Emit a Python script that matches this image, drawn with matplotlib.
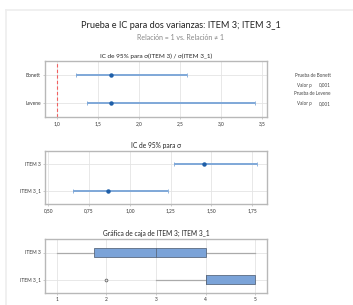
import matplotlib.pyplot as plt
from matplotlib.patches import Rectangle

plt.rcParams['font.family'] = ['Lato', 'DejaVu Sans']

# IC de la razon de desviaciones
metodos = ["Bonett", "Levene"]
razon_est = [1.66, 1.66]
razon_inf = [1.23, 1.365]
razon_sup = [2.58, 3.41]

# IC de sigma
muestras = ["ITEM 3", "ITEM 3_1"]
sigma_est = [1.451, 0.868]
sigma_inf = [1.273, 0.653]
sigma_sup = [1.776, 1.236]

# datos de la grafica de caja (min, q1, mediana, q3, max)
caja_item3 = [1, 1.75, 3, 4, 5]
caja_item31 = [3, 4, 4, 5, 5]
atipicos_item31 = [2]

pruebas = ["Prueba de Bonett", "Prueba de Levene"]
valores_p = ["0,001", "0,001"]

W, H = 353, 305
fig = plt.figure(figsize=(W / 100, H / 100), dpi=100)

def box(x0, y0, x1, y1):
    return [x0 / W, 1 - y1 / H, (x1 - x0) / W, (y1 - y0) / H]

grid_c = "#e4e4e4"
spine_c = "#b8b8b8"
ci_c = "#7fa8d8"
pt_c = "#1f5fa8"

def style(ax):
    for s in ax.spines.values():
        s.set_color(spine_c)
        s.set_linewidth(1.0)
    ax.tick_params(labelsize=3.5, length=1.5, width=0.5, color=spine_c, pad=1.5, labelcolor="#333333")
    ax.grid(True, color=grid_c, linewidth=0.6)
    ax.set_axisbelow(True)

# borde de la tarjeta
fig.add_artist(plt.Line2D([6 / W, 6 / W], [0, 1 - 10 / H], color="#eeeeee", lw=1.2))
fig.add_artist(plt.Line2D([6 / W, 1], [1 - 10 / H, 1 - 10 / H], color="#eeeeee", lw=1.2))

fig.text(181 / W, 1 - 25 / H, "Prueba e IC para dos varianzas: ITEM 3; ITEM 3_1",
         ha="center", va="center", fontsize=6.6, color="#222222")
fig.text(181 / W, 1 - 37 / H, "Relación = 1 vs. Relación \u2260 1",
         ha="center", va="center", fontsize=5.0, color="#888888")

# panel 1
ax1 = fig.add_axes(box(45, 61, 267, 117))
style(ax1)
ypos = [1, 0]
for y, e, lo, hi in zip(ypos, razon_est, razon_inf, razon_sup):
    ax1.errorbar([e], [y], xerr=[[e - lo], [hi - e]], fmt="o", color=pt_c, ms=2.2,
                 ecolor=ci_c, elinewidth=1.4, capsize=1.2, capthick=0.6)
ax1.axvline(1.0, color="#f26060", ls=(0, (3, 2)), lw=0.8)
ax1.set_xlim(0.854, 3.56)
ax1.set_ylim(-0.5, 1.5)
ax1.set_yticks(ypos)
ax1.set_yticklabels(metodos)
ax1.set_xticks([1.0, 1.5, 2.0, 2.5, 3.0, 3.5])
ax1.set_xticklabels(["1,0", "1,5", "2,0", "2,5", "3,0", "3,5"])
ax1.set_title("IC de 95% para \u03c3(ITEM 3) / \u03c3(ITEM 3_1)", fontsize=4.6, pad=2, color="#222222")

# panel 2
ax2 = fig.add_axes(box(45, 151, 267, 204))
style(ax2)
for y, e, lo, hi in zip(ypos, sigma_est, sigma_inf, sigma_sup):
    ax2.errorbar([e], [y], xerr=[[e - lo], [hi - e]], fmt="o", color=pt_c, ms=2.2,
                 ecolor=ci_c, elinewidth=1.4, capsize=1.2, capthick=0.6)
ax2.set_xlim(0.48, 1.84)
ax2.set_ylim(-0.5, 1.5)
ax2.set_yticks(ypos)
ax2.set_yticklabels(muestras)
ax2.set_xticks([0.5, 0.75, 1.0, 1.25, 1.5, 1.75])
ax2.set_xticklabels(["0,50", "0,75", "1,00", "1,25", "1,50", "1,75"])
ax2.set_title("IC de 95% para \u03c3", fontsize=4.8, pad=2, color="#222222")

# panel 3
ax3 = fig.add_axes(box(45, 239, 267, 293))
style(ax3)
bh = 0.36
for y, c in zip(ypos, [caja_item3, caja_item31]):
    mn, q1, med, q3, mx = c
    ax3.plot([mn, q1], [y, y], color="#aaaaaa", lw=0.9, zorder=2)
    ax3.plot([q3, mx], [y, y], color="#aaaaaa", lw=0.9, zorder=2)
    ax3.add_patch(Rectangle((q1, y - bh / 2), q3 - q1, bh, facecolor="#7ba3d8",
                            edgecolor="#5a6a80", lw=0.6, zorder=3))
    ax3.plot([med, med], [y - bh / 2, y + bh / 2], color="#5a6a80", lw=0.6, zorder=4)
ax3.plot(atipicos_item31, [0] * len(atipicos_item31), "o", mfc="none", mec="#666666",
         ms=2, mew=0.6, zorder=4)
ax3.set_xlim(0.76, 5.24)
ax3.set_ylim(-0.5, 1.5)
ax3.set_yticks(ypos)
ax3.set_yticklabels(muestras)
ax3.set_xticks([1, 2, 3, 4, 5])
ax3.set_title("Gráfica de caja de ITEM 3; ITEM 3_1", fontsize=4.8, pad=2, color="#222222")

# texto de la derecha
rows_y = [75.5, 85, 94, 103.5]
fig.text(331 / W, 1 - rows_y[0] / H, pruebas[0], ha="right", va="center", fontsize=3.3, color="#444444")
fig.text(312 / W, 1 - rows_y[1] / H, "Valor p", ha="right", va="center", fontsize=3.3, color="#444444")
fig.text(331 / W, 1 - rows_y[1] / H, valores_p[0], ha="right", va="center", fontsize=3.3, color="#444444")
fig.text(331 / W, 1 - rows_y[2] / H, pruebas[1], ha="right", va="center", fontsize=3.3, color="#444444")
fig.text(312 / W, 1 - rows_y[3] / H, "Valor p", ha="right", va="center", fontsize=3.3, color="#444444")
fig.text(331 / W, 1 - rows_y[3] / H, valores_p[1], ha="right", va="center", fontsize=3.3, color="#444444")

fig.savefig("out.png", dpi=100, facecolor="white")
